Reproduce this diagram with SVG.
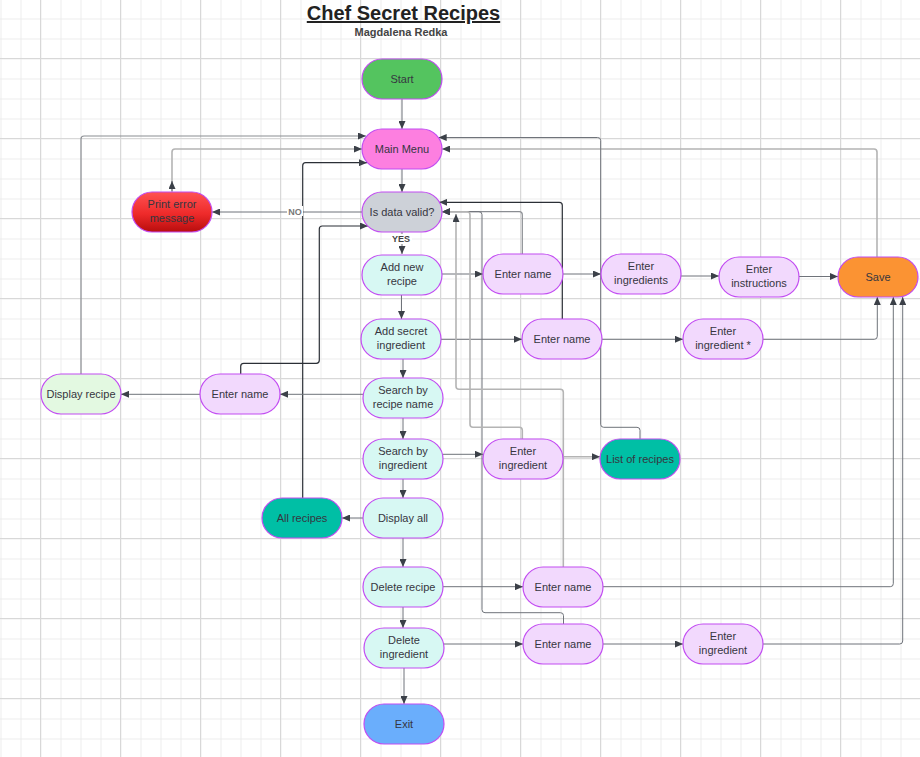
<svg xmlns="http://www.w3.org/2000/svg" width="920" height="757" viewBox="0 0 920 757">
<defs>
<pattern id="gMinor" x="0.5" y="18.5" width="20" height="20" patternUnits="userSpaceOnUse"><path d="M0 0.5H20M0.5 0V20" stroke="#ececec" stroke-width="1" fill="none"/></pattern>
<pattern id="gMajor" x="40" y="58" width="80" height="80" patternUnits="userSpaceOnUse"><path d="M0 0.5H80M0.5 0V80" stroke="#d8d8d8" stroke-width="1" fill="none"/></pattern>
<linearGradient id="red" x1="0" y1="0" x2="0" y2="1"><stop offset="0" stop-color="#ff5252"/><stop offset="0.55" stop-color="#ee2a2a"/><stop offset="1" stop-color="#b80d0d"/></linearGradient>
<marker id="ah" viewBox="0 0 8 7" refX="8" refY="3.5" markerWidth="8" markerHeight="7" markerUnits="userSpaceOnUse" orient="auto"><path d="M0 0L8 3.5L0 7z" fill="#3b4048"/></marker>
</defs>
<style>
.n{stroke:#c24cf2;stroke-width:1.2}
.t{font-family:"Liberation Sans",Arial,sans-serif;font-size:11px;fill:#36363f;text-anchor:middle}
.c{fill:none;stroke:#6f737a;stroke-width:1;marker-end:url(#ah)}
.lt{stroke:#b4b4b4;stroke-width:1.6}
.dk{stroke:#2b2f36;stroke-width:1.2}
.md{stroke:#8a8d92;stroke-width:1.2}
.cyan{fill:#d7f8f3}
.lav{fill:#f2d9fd}
.teal{fill:#00bfa5}
</style>
<rect width="920" height="757" fill="#fff"/>
<rect width="920" height="757" fill="url(#gMinor)"/>
<rect width="920" height="757" fill="url(#gMajor)"/>

<text x="403.5" y="20" style="font-family:'Liberation Sans',Arial,sans-serif;font-size:20px;font-weight:bold;fill:#222;text-decoration:underline" text-anchor="middle">Chef Secret Recipes</text>
<text x="401" y="36" style="font-family:'Liberation Sans',Arial,sans-serif;font-size:11px;font-weight:bold;fill:#444" text-anchor="middle">Magdalena Redka</text>

<g id="connectors">
<path class="c" d="M402 99V129"/>
<path class="c" d="M402 169V192"/>
<path class="c" d="M362 212H212"/>
<path class="c lt" d="M172 192V152Q172 149 175 149H362"/>
<path class="c" d="M172 191V181"/>
<path class="c" d="M402 232V254"/>
<path class="c" d="M442 274H483"/>
<path class="c" d="M563 274H601"/>
<path class="c" d="M681 276H719"/>
<path class="c" d="M799 276.5H838"/>
<path class="c lt" d="M877 257V152Q877 149 874 149H442"/>
<path class="c" d="M640 439V430.3Q640 427.3 637 427.3H603.7Q600.7 427.3 600.7 424.3V140.5Q600.7 137.5 597.7 137.5H438.7"/>
<path class="c md" d="M81 374V139Q81 136 84 136H366"/>
<path class="c dk" d="M302.7 498V165.7Q302.7 162.7 305.7 162.7H367"/>
<path class="c dk" d="M240.7 374V366.3Q240.7 363.3 243.7 363.3H316.3Q319.3 363.3 319.3 360.3V229Q319.3 226 322.3 226H368"/>
<path class="c" d="M363 394.3H280"/>
<path class="c" d="M200 394.3H121"/>
<path class="c" d="M401.5 295V319"/>
<path class="c" d="M403 359V378"/>
<path class="c" d="M403 418V439"/>
<path class="c" d="M403 479V498"/>
<path class="c" d="M403 538V567"/>
<path class="c" d="M403 607V628"/>
<path class="c" d="M404 668V704"/>
<path class="c" d="M363 518H342"/>
<path class="c md" d="M441 339.3H522"/>
<path class="c" d="M602 339.3H683"/>
<path class="c" d="M763 339.3H874.3Q877.3 339.3 877.3 336.3V297"/>
<path class="c" d="M443 454.3H483"/>
<path class="c lt" d="M563 456.7H600"/>
<path class="c" d="M443 586.7H523"/>
<path class="c" d="M603 586.7H890.3Q893.3 586.7 893.3 583.7V297"/>
<path class="c" d="M443 644H523"/>
<path class="c" d="M603 644H683"/>
<path class="c" d="M763 644H899.7Q902.7 644 902.7 641V297"/>
<path class="c md" d="M522.3 254V214.7Q522.3 211.7 519.3 211.7H442"/>
<path class="c dk" d="M562.3 319V205.3Q562.3 202.3 559.3 202.3H439.3"/>
<path class="c" d="M563.5 624V615.7Q563.5 612.7 560.5 612.7H485Q482 612.7 482 609.7V214.7Q482 211.7 479 211.7H442"/>
<path class="c lt" d="M522.3 439V430.3Q522.3 427.3 519.3 427.3H473Q470 427.3 470 424.3V214.7Q470 211.7 467 211.7H442"/>
<path class="c lt" d="M563.3 567V392.3Q563.3 389.3 560.3 389.3H459Q456 389.3 456 386.3V214"/>
<rect x="287" y="206" width="16" height="10" fill="#fff"/>
<text x="295" y="214.5" style="font-family:'Liberation Sans',Arial,sans-serif;font-size:9px;font-weight:bold;fill:#777" text-anchor="middle">NO</text>
<rect x="391" y="234" width="21" height="10" fill="#fff"/>
<text x="401" y="242" style="font-family:'Liberation Sans',Arial,sans-serif;font-size:9px;font-weight:bold;fill:#444" text-anchor="middle">YES</text>
</g>

<g id="start"><rect class="n" x="362" y="59" width="80" height="40" rx="20" fill="#54c45f"/><text class="t" x="402" y="83">Start</text></g>
<g id="main-menu"><rect class="n" x="362" y="129" width="80" height="40" rx="20" fill="#fd7fe0"/><text class="t" x="402" y="153">Main Menu</text></g>
<g id="is-data-valid"><rect class="n" x="362" y="192" width="80" height="40" rx="20" fill="#cdd1d8"/><text class="t" x="402" y="216">Is data valid?</text></g>
<g id="print-error"><rect class="n" x="132" y="192" width="80" height="40" rx="20" fill="url(#red)"/><text class="t" x="172" y="208">Print error</text><text class="t" x="172" y="221.5">message</text></g>
<g id="add-new-recipe"><rect class="n cyan" x="362" y="255" width="80" height="40" rx="20"/><text class="t" x="402" y="271">Add new</text><text class="t" x="402" y="284.5">recipe</text></g>
<g id="enter-name-1"><rect class="n lav" x="483" y="254" width="80" height="40" rx="20"/><text class="t" x="523" y="278">Enter name</text></g>
<g id="enter-ingredients"><rect class="n lav" x="601" y="254" width="80" height="40" rx="20"/><text class="t" x="641" y="270">Enter</text><text class="t" x="641" y="283.5">ingredients</text></g>
<g id="enter-instructions"><rect class="n lav" x="719" y="257" width="80" height="40" rx="20"/><text class="t" x="759" y="273">Enter</text><text class="t" x="759" y="286.5">instructions</text></g>
<g id="save"><rect class="n" x="838" y="257" width="80" height="40" rx="20" fill="#fb9333"/><text class="t" x="878" y="281">Save</text></g>
<g id="add-secret"><rect class="n cyan" x="361" y="319" width="80" height="40" rx="20"/><text class="t" x="401" y="335">Add secret</text><text class="t" x="401" y="348.5">ingredient</text></g>
<g id="enter-name-2"><rect class="n lav" x="522" y="319" width="80" height="40" rx="20"/><text class="t" x="562" y="343">Enter name</text></g>
<g id="enter-ingredient-star"><rect class="n lav" x="683" y="319" width="80" height="40" rx="20"/><text class="t" x="723" y="335">Enter</text><text class="t" x="723" y="348.5">ingredient *</text></g>
<g id="search-by-recipe"><rect class="n cyan" x="363" y="378" width="80" height="40" rx="20"/><text class="t" x="403" y="394">Search by</text><text class="t" x="403" y="407.5">recipe name</text></g>
<g id="enter-name-3"><rect class="n lav" x="200" y="374" width="80" height="40" rx="20"/><text class="t" x="240" y="398">Enter name</text></g>
<g id="display-recipe"><rect class="n" x="41" y="374" width="80" height="40" rx="20" fill="#e3f9e1"/><text class="t" x="81" y="398">Display recipe</text></g>
<g id="search-by-ingredient"><rect class="n cyan" x="363" y="439" width="80" height="40" rx="20"/><text class="t" x="403" y="455">Search by</text><text class="t" x="403" y="468.5">ingredient</text></g>
<g id="enter-ingredient-search"><rect class="n lav" x="483" y="439" width="80" height="40" rx="20"/><text class="t" x="523" y="455">Enter</text><text class="t" x="523" y="468.5">ingredient</text></g>
<g id="list-of-recipes"><rect class="n teal" x="600" y="439" width="80" height="40" rx="20"/><text class="t" x="640" y="463">List of recipes</text></g>
<g id="display-all"><rect class="n cyan" x="363" y="498" width="80" height="40" rx="20"/><text class="t" x="403" y="522">Display all</text></g>
<g id="all-recipes"><rect class="n teal" x="262" y="498" width="80" height="40" rx="20"/><text class="t" x="302" y="522">All recipes</text></g>
<g id="delete-recipe"><rect class="n cyan" x="363" y="567" width="80" height="40" rx="20"/><text class="t" x="403" y="591">Delete recipe</text></g>
<g id="enter-name-4"><rect class="n lav" x="523" y="567" width="80" height="40" rx="20"/><text class="t" x="563" y="591">Enter name</text></g>
<g id="delete-ingredient"><rect class="n cyan" x="364" y="628" width="80" height="40" rx="20"/><text class="t" x="404" y="644">Delete</text><text class="t" x="404" y="657.5">ingredient</text></g>
<g id="enter-name-5"><rect class="n lav" x="523" y="624" width="80" height="40" rx="20"/><text class="t" x="563" y="648">Enter name</text></g>
<g id="enter-ingredient-del"><rect class="n lav" x="683" y="624" width="80" height="40" rx="20"/><text class="t" x="723" y="640">Enter</text><text class="t" x="723" y="653.5">ingredient</text></g>
<g id="exit"><rect class="n" x="364" y="704" width="80" height="40" rx="20" fill="#6aaefc"/><text class="t" x="404" y="728">Exit</text></g>
</svg>
